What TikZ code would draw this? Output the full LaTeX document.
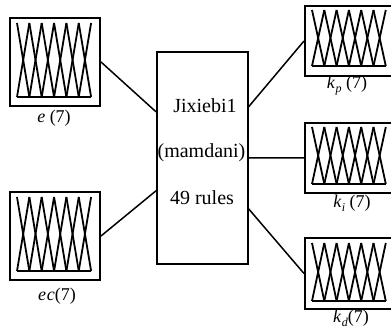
\documentclass[tikz,border=0pt]{standalone}
\usepackage{fontspec}
\setmainfont{Liberation Serif}
\usetikzlibrary{calc}
\tikzset{
  panel/.style={draw, line width=2pt, inner sep=0pt, anchor=north west},
  mf/.style={line width=1.8pt, line join=miter},
  conn/.style={line width=1.5pt},
  fisbox/.style={draw, line width=1.6pt, inner sep=0pt, anchor=north west},
  boxtext/.style={font=\fontsize{20}{22}\selectfont, inner sep=0pt},
  lbl/.style={font=\fontsize{18}{20}\selectfont, inner sep=0pt}
}
\newcommand\mfset[4]{% x0, h, top, base
  \draw[mf] (#1,#4) -- ({#1+6*#2},#4);
  \foreach \k in {0,...,5}{
    \draw[mf] ({#1+\k*#2},#3) -- ({#1+(\k+1)*#2},#4);
    \draw[mf] ({#1+\k*#2},#4) -- ({#1+(\k+1)*#2},#3);
  }
}
\newcommand\ksub[1]{\textit{k}\kern0.3pt\raisebox{-4pt}{\fontsize{12}{12}\selectfont\textit{#1}}}
\begin{document}
\begin{tikzpicture}[x=1pt,y=-1pt]
\useasboundingbox (0,0) rectangle (391,331);
% panels
\node[panel, minimum width=90pt, minimum height=88pt] (e) at (9,17) {};
\node[panel, minimum width=90pt, minimum height=88pt] (ec) at (9,191) {};
\node[panel, minimum width=90pt, minimum height=70pt] (kp) at (304,5) {};
\node[panel, minimum width=90pt, minimum height=70pt] (ki) at (304,122) {};
\node[panel, minimum width=90pt, minimum height=71pt] (kd) at (304,237) {};
% membership functions
\mfset{17}{12.35}{23}{97}
\mfset{17}{12.35}{197}{271}
\mfset{312}{12.3}{10}{66}
\mfset{312}{12.3}{127}{184}
\mfset{312}{12.3}{243}{301}
% labels
\node[lbl] (le) at (54,118) {\textit{e} (7)};
\node[lbl] (lec) at (57,296) {\textit{e\kern1pt c}(7)};
\node[lbl] (lkp) at (347,86) {\ksub{p} (7)};
\node[lbl] (lki) at (352,203) {\ksub{i} (7)};
\node[lbl] (lkd) at (351,318) {\ksub{d}(7)};
% FIS box
\node[fisbox, minimum width=91pt, minimum height=212pt] (fis) at (156,51) {};
\node[boxtext] (t1) at (205,106) {Jixiebi1};
\node[boxtext] (t2) at (201.5,153) {(mamdani)};
\node[boxtext] (t3) at (202,198) {49 rules};
% connectors
\draw[conn] (e.east) -- ([yshift=46pt]fis.west);
\draw[conn] (ec.east) -- ([yshift=-33pt]fis.west);
\draw[conn] ([yshift=51pt]fis.east) -- (kp.west);
\draw[conn] (fis.east) -- (ki.west);
\draw[conn] ([yshift=-51pt]fis.east) -- (kd.west);
\end{tikzpicture}
\end{document}
